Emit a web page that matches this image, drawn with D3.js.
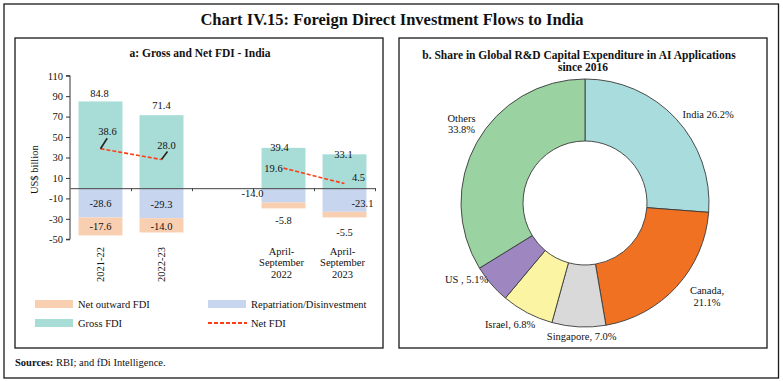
<!DOCTYPE html>
<html><head><meta charset="utf-8">
<script src="https://cdn.jsdelivr.net/npm/d3@7"></script>
<style>body{margin:0;background:#fff} text{font-family:"Liberation Serif","Times New Roman",serif;fill:#111}</style>
</head><body><svg id="c" width="783" height="381"></svg>
<script>
// ---------- data ----------
const categories = ["2021-22", "2022-23", "", "April-September 2022", "April-September 2023"];
const catLines = [["2021-22"], ["2022-23"], [], ["April-", "September", "2022"], ["April-", "September", "2023"]];
const grossFDI = [84.8, 71.4, null, 39.4, 33.1];
const repatriation = [-28.6, -29.3, null, -14.0, -23.1];
const netOutward = [-17.6, -14.0, null, -5.8, -5.5];
const netFDI = [38.6, 28.0, null, 19.6, 4.5];
const yTicks = [-50, -30, -10, 10, 30, 50, 70, 90, 110];

const shareCountries = ["India", "Canada", "Singapore", "Israel", "US", "Others"];
const shareValues = [26.2, 21.1, 7.0, 6.8, 5.1, 33.8];
const shareLabels = [["India 26.2%"], ["Canada,", "21.1%"], ["Singapore, 7.0%"], ["Israel, 6.8%"], ["US , 5.1%"], ["Others", "33.8%"]];

// ---------- layout / style ----------
const col = {gross: "#a8dcd7", rep: "#c7d6ee", out: "#f9cfb2", net: "#ff3d17"};
const pieColors = ["#a9dcdc", "#f07122", "#d9d9d9", "#fbf5a3", "#9e86c0", "#9ad2a2"];
const grossNudge = [[-1, -8], [0, -9.5], null, [-4, -1], [-1, 0]];
const repNudge = [[0, 1], [0, 1], null, [-31, -2], [18, 3]];
const outNudge = [[0, 0], [0, 1], null, [0, 14.5], [0, 17.7]];
const netNudge = [[7, -17], [5, -14], null, [-10, 0], [14, -6]];
const leader = [[6.7, -10.4], [6, -8], null, null, null];
const pieNudge = [[16, 11], [14, -5], [4, -12], [-7, -8], [-8, -19], [4, -8]];

const svg = d3.select("#c");
svg.append("rect").attr("width", 783).attr("height", 381).attr("fill", "#fff");
svg.append("rect").attr("x", 4).attr("y", 4).attr("width", 774.5).attr("height", 374)
  .attr("fill", "none").attr("stroke", "#1a1a1a").attr("stroke-width", 1.3);
svg.append("rect").attr("x", 15).attr("y", 38).attr("width", 368).attr("height", 310)
  .attr("fill", "none").attr("stroke", "#1a1a1a").attr("stroke-width", 1.3);
svg.append("rect").attr("x", 399).attr("y", 38).attr("width", 368).attr("height", 310)
  .attr("fill", "none").attr("stroke", "#1a1a1a").attr("stroke-width", 1.3);

svg.append("text").attr("x", 392).attr("y", 25).attr("text-anchor", "middle")
  .attr("font-size", 16.5).attr("font-weight", "bold").text("Chart IV.15: Foreign Direct Investment Flows to India");
svg.append("text").attr("x", 200).attr("y", 57).attr("text-anchor", "middle")
  .attr("font-size", 11.5).attr("font-weight", "bold").text("a: Gross and Net FDI - India");
svg.append("text").attr("x", 579).attr("y", 59).attr("text-anchor", "middle")
  .attr("font-size", 11.5).attr("font-weight", "bold").text("b. Share in Global R&D Capital Expenditure in AI Applications");
svg.append("text").attr("x", 583).attr("y", 71).attr("text-anchor", "middle")
  .attr("font-size", 11.5).attr("font-weight", "bold").text("since 2016");

const src = svg.append("text").attr("x", 15).attr("y", 366).attr("font-size", 10.5);
src.append("tspan").attr("font-weight", "bold").text("Sources:");
src.append("tspan").text(" RBI; and fDi Intelligence.");

// ---------- left chart ----------
const y = d3.scaleLinear().domain([-50, 110]).range([239.3, 75.7]);
const x = d3.scaleBand().domain(d3.range(categories.length)).range([70, 375]).paddingInner(0.28).paddingOuter(0.14);
const xb = d3.scaleLinear().domain([0, categories.length]).range([70, 375]);
const g = svg.append("g");

const idx = d3.range(categories.length).filter(i => grossFDI[i] != null);
g.selectAll(".gb").data(idx).join("rect").attr("fill", col.gross)
  .attr("x", i => x(i)).attr("width", x.bandwidth())
  .attr("y", i => y(grossFDI[i])).attr("height", i => y(0) - y(grossFDI[i]));
g.selectAll(".rb").data(idx).join("rect").attr("fill", col.rep)
  .attr("x", i => x(i)).attr("width", x.bandwidth())
  .attr("y", y(0)).attr("height", i => y(repatriation[i]) - y(0));
g.selectAll(".ob").data(idx).join("rect").attr("fill", col.out)
  .attr("x", i => x(i)).attr("width", x.bandwidth())
  .attr("y", i => y(repatriation[i])).attr("height", i => y(repatriation[i] + netOutward[i]) - y(repatriation[i]));

// axes
const ya = d3.axisLeft(y).tickValues(yTicks).tickSize(4).tickPadding(3).tickFormat(d => String(d));
const yg = g.append("g").attr("transform", "translate(70,0)").call(ya);
yg.select(".domain").attr("d", `M-4,${y(110)}H0V${y(-50)}H-4`).attr("stroke", "#333");
yg.selectAll("line").attr("stroke", "#333");
yg.selectAll("text").attr("font-size", 10.5).attr("font-family", "Liberation Serif").attr("fill", "#111");

const xa = d3.axisBottom(xb).tickValues(d3.range(1, categories.length + 1)).tickSize(3).tickSizeOuter(0).tickFormat("");
const xg = g.append("g").attr("transform", `translate(0,${y(0)})`).call(xa);
xg.selectAll("line,path").attr("stroke", "#444");

svg.append("text").attr("transform", `translate(38,${(y(50)+y(-10))/2 + 2}) rotate(-90)`)
  .attr("text-anchor", "middle").attr("font-size", 10.5).text("US$ billion");

catLines.forEach((lines, i) => {
  const cx = x(i) + x.bandwidth() / 2;
  if (lines.length === 1) {
    g.append("text").attr("transform", `translate(${cx},247) rotate(-90)`)
      .attr("text-anchor", "end").attr("dy", "0.35em").attr("font-size", 10.5).text(lines[0]);
  } else {
    lines.forEach((t, k) => g.append("text").attr("x", cx - 2).attr("y", 255 + k * 11.3)
      .attr("text-anchor", "middle").attr("font-size", 10.5).text(t));
  }
});

// net FDI line
const line = d3.line().defined(i => netFDI[i] != null)
  .x(i => x(i) + x.bandwidth() / 2).y(i => y(netFDI[i]));
g.append("path").datum(d3.range(categories.length)).attr("d", line)
  .attr("fill", "none").attr("stroke", col.net).attr("stroke-width", 1.6).attr("stroke-dasharray", "4,2");

idx.forEach(i => {
  if (!leader[i]) return;
  const px = x(i) + x.bandwidth() / 2, py = y(netFDI[i]);
  g.append("line").attr("x1", px).attr("y1", py).attr("x2", px + leader[i][0]).attr("y2", py + leader[i][1])
    .attr("stroke", "#222").attr("stroke-width", 1.6);
});

const fmt = v => v.toFixed(1);
function lab(i, yv, nudge, v) {
  g.append("text").attr("x", x(i) + x.bandwidth() / 2 + nudge[0]).attr("y", yv + nudge[1])
    .attr("dy", "0.35em").attr("text-anchor", "middle").attr("font-size", 10.5).text(fmt(v));
}
idx.forEach(i => {
  lab(i, y(grossFDI[i]), grossNudge[i], grossFDI[i]);
  lab(i, y(repatriation[i] / 2), repNudge[i], repatriation[i]);
  lab(i, y(repatriation[i] + netOutward[i] / 2), outNudge[i], netOutward[i]);
  lab(i, y(netFDI[i]), netNudge[i], netFDI[i]);
});

// legend
const legend = [
  {t: "Net outward FDI", c: col.out, x: 35, y: 304, type: "rect"},
  {t: "Repatriation/Disinvestment", c: col.rep, x: 208, y: 304, type: "rect"},
  {t: "Gross FDI", c: col.gross, x: 35, y: 323, type: "rect"},
  {t: "Net FDI", c: col.net, x: 208, y: 323, type: "line"}
];
legend.forEach(d => {
  if (d.type === "rect") svg.append("rect").attr("x", d.x).attr("y", d.y - 4).attr("width", 38).attr("height", 8).attr("fill", d.c);
  else svg.append("line").attr("x1", d.x).attr("x2", d.x + 39).attr("y1", d.y).attr("y2", d.y)
    .attr("stroke", d.c).attr("stroke-width", 2).attr("stroke-dasharray", "4,2");
  svg.append("text").attr("x", d.x + 43).attr("y", d.y).attr("dy", "0.35em").attr("font-size", 10.5).text(d.t);
});

// ---------- donut ----------
const cx0 = 585, cy0 = 203, R = 124, r0 = 62;
const pie = d3.pie().sort(null).value(d => d)(shareValues);
const arc = d3.arc().innerRadius(r0).outerRadius(R);
const pg = svg.append("g").attr("transform", `translate(${cx0},${cy0})`);
pg.selectAll("path").data(pie).join("path").attr("d", arc)
  .attr("fill", (d, i) => pieColors[i]).attr("stroke", "#3a3a3a").attr("stroke-width", 0.9);
pie.forEach((d, i) => {
  const a = (d.startAngle + d.endAngle) / 2;
  const lx = 146 * Math.sin(a) + pieNudge[i][0], ly = -146 * Math.cos(a) + pieNudge[i][1];
  const lines = shareLabels[i];
  const t = pg.append("text").attr("text-anchor", "middle").attr("font-size", 10.5);
  lines.forEach((s, k) => t.append("tspan").attr("x", lx)
    .attr("y", ly + (k - (lines.length - 1) / 2) * 11.5).attr("dy", "0.35em").text(s));
});
</script></body></html>
